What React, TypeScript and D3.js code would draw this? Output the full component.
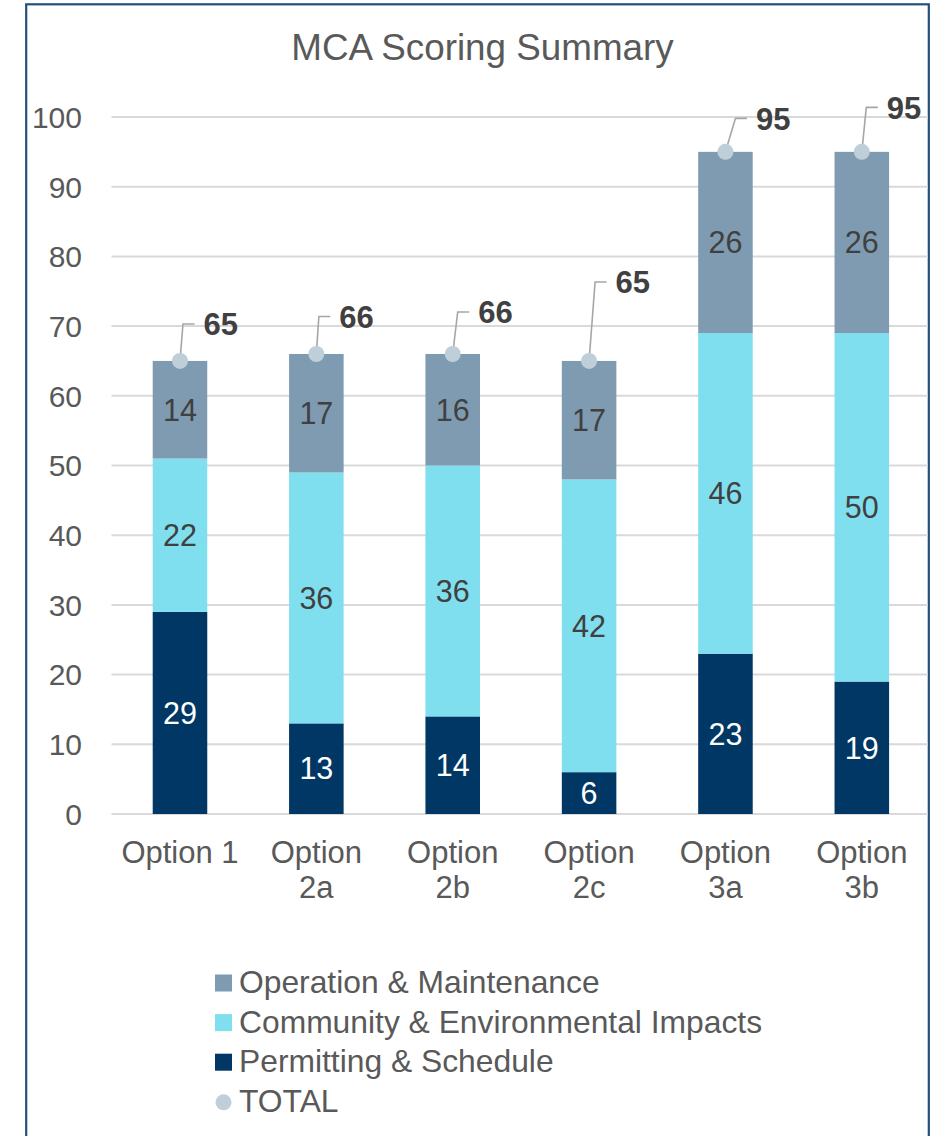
import React from "react";
import * as d3 from "d3";

const categories = ["Option 1", "Option 2a", "Option 2b", "Option 2c", "Option 3a", "Option 3b"];
const categoryLines = [["Option 1"], ["Option", "2a"], ["Option", "2b"], ["Option", "2c"], ["Option", "3a"], ["Option", "3b"]];
const permitting = [29, 13, 14, 6, 23, 19];
const community = [22, 36, 36, 42, 46, 50];
const operation = [14, 17, 16, 17, 26, 26];
const totals = [65, 66, 66, 65, 95, 95];
const yTicks = [0, 10, 20, 30, 40, 50, 60, 70, 80, 90, 100];
const seriesNames = ["Permitting & Schedule", "Community & Environmental Impacts", "Operation & Maintenance"];
const legendNames = ["Operation & Maintenance", "Community & Environmental Impacts", "Permitting & Schedule", "TOTAL"];

// manual leader-line elbow offsets (px) from the total dot, as placed in the original
const labelOffsets: [number, number][] = [[3, -37], [2.5, -37.5], [5, -42], [6, -79], [10, -33.5], [4.5, -44.5]];

const COLORS: Record<string, string> = {
  "Permitting & Schedule": "#003764",
  "Community & Environmental Impacts": "#7FDFEF",
  "Operation & Maintenance": "#7F9BB1",
};
const DOT = "#BFCFDA";
const TEXT = "#595959";
const FONT = "'Liberation Sans', Arial, sans-serif";

export default function App() {
  const W = 930, H = 1136;
  const x = d3.scaleBand<string>().domain(categories).range([111.8, 930]).padding(0);
  const y = d3.scaleLinear().domain([0, 100]).range([814, 117]);
  const barW = x.bandwidth() * 0.4;

  const rows = categories.map((c, i) => ({
    cat: c,
    "Permitting & Schedule": permitting[i],
    "Community & Environmental Impacts": community[i],
    "Operation & Maintenance": operation[i],
  }));
  const stacked = d3.stack<any>().keys(seriesNames)(rows);

  return (
    <svg width={W} height={H} style={{ position: "absolute", left: 0, top: 0, fontFamily: FONT }}>
      <rect x={0} y={0} width={W} height={H} fill="#fff" />
      <rect x={26.2} y={4.3} width={902.6} height={1160} fill="none" stroke="#22507E" strokeWidth={2.2} />
      <text x={482.5} y={60} textAnchor="middle" fontSize={36.8} fill={TEXT}>MCA Scoring Summary</text>

      {yTicks.map((t) => (
        <g key={t}>
          <line x1={111.5} x2={928} y1={y(t)} y2={y(t)} stroke="#D9D9D9" strokeWidth={2} />
          <text x={82} y={y(t) + 10.8} textAnchor="end" fontSize={30} fill={TEXT}>{t}</text>
        </g>
      ))}

      {stacked.map((s) => (
        <g key={s.key}>
          {s.map((d, i) => {
            const cx = x(categories[i])! + x.bandwidth() / 2;
            const y0 = y(d[0]), y1 = y(d[1]);
            const v = d[1] - d[0];
            return (
              <g key={i}>
                <rect x={cx - barW / 2} y={y1} width={barW} height={y0 - y1} fill={COLORS[s.key]} />
                <text x={cx} y={(y0 + y1) / 2 + 10.8} textAnchor="middle" fontSize={30.5}
                  fill={s.key === "Permitting & Schedule" ? "#FFFFFF" : "#404040"}>{v}</text>
              </g>
            );
          })}
        </g>
      ))}

      {totals.map((t, i) => {
        const cx = x(categories[i])! + x.bandwidth() / 2;
        const cy = y(t);
        const [dx, dy] = labelOffsets[i];
        const ex = cx + dx, ey = cy + dy;
        return (
          <g key={i}>
            <polyline points={`${cx},${cy} ${ex},${ey} ${ex + 11.5},${ey}`} fill="none" stroke="#A6A6A6" strokeWidth={1.6} />
            <circle cx={cx} cy={cy} r={8} fill={DOT} />
            <text x={ex + 20.5} y={ey + 11.2} fontSize={31} fontWeight="bold" fill="#404040">{t}</text>
          </g>
        );
      })}

      {categoryLines.map((lines, i) => {
        const cx = x(categories[i])! + x.bandwidth() / 2;
        return (
          <text key={i} x={cx} y={863} textAnchor="middle" fontSize={31} fill={TEXT}>
            {lines.map((l, j) => (
              <tspan key={j} x={cx} dy={j === 0 ? 0 : 35}>{l}</tspan>
            ))}
          </text>
        );
      })}

      {legendNames.map((n, i) => {
        const by = 993 + i * 39.6;
        return (
          <g key={n}>
            {n === "TOTAL" ? (
              <circle cx={223.5} cy={by - 9.5} r={8} fill={DOT} />
            ) : (
              <rect x={215} y={by - 18.5} width={17} height={17} fill={COLORS[n]} />
            )}
            <text x={239} y={by} fontSize={31.8} fill={TEXT}>{n}</text>
          </g>
        );
      })}
    </svg>
  );
}
